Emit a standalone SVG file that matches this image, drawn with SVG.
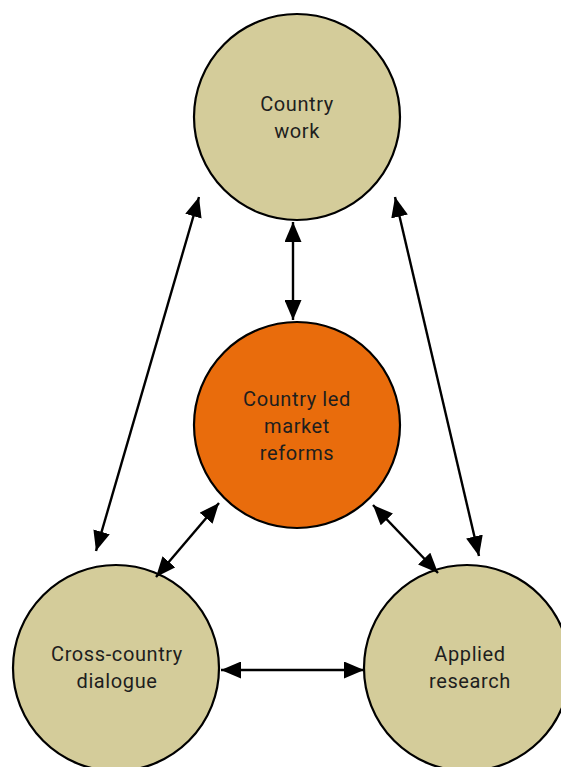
<svg xmlns="http://www.w3.org/2000/svg" width="561" height="767" viewBox="0 0 561 767">
  <style>
    .node { stroke: #000; stroke-width: 2.2; }
    .tan { fill: #d4cc9a; }
    .orange { fill: #e96c0c; }
    .label { font-family: Roboto, "DejaVu Sans", sans-serif; font-size: 20px; letter-spacing: 0.6px; fill: #1e1e1e; text-anchor: middle; }
    .link { stroke: #000; stroke-width: 2.4; fill: none; marker-start: url(#head); marker-end: url(#head); }
  </style>
  <defs>
    <marker id="head" viewBox="0 0 20 17" refX="20" refY="8.5" markerWidth="20" markerHeight="17" markerUnits="userSpaceOnUse" orient="auto-start-reverse">
      <path d="M0,0 L20,8.5 L0,17 Z" fill="#000"/>
    </marker>
  </defs>

  <rect width="561" height="767" fill="#fff"/>

  <g id="country-work">
    <circle class="node tan" cx="297" cy="117" r="103"/>
    <text class="label" x="297" y="111">Country</text>
    <text class="label" x="297" y="138">work</text>
  </g>

  <g id="country-led-market-reforms">
    <circle class="node orange" cx="297" cy="425" r="103"/>
    <text class="label" x="297" y="406">Country led</text>
    <text class="label" x="297" y="433">market</text>
    <text class="label" x="297" y="460">reforms</text>
  </g>

  <g id="cross-country-dialogue">
    <circle class="node tan" cx="116" cy="668" r="103"/>
    <text class="label" x="117" y="661">Cross-country</text>
    <text class="label" x="117" y="688">dialogue</text>
  </g>

  <g id="applied-research">
    <circle class="node tan" cx="467" cy="668" r="103"/>
    <text class="label" x="470" y="661">Applied</text>
    <text class="label" x="470" y="688">research</text>
  </g>

  <g id="connectors">
    <line class="link" x1="293" y1="222" x2="293" y2="320"/>
    <line class="link" x1="199" y1="197" x2="96" y2="551"/>
    <line class="link" x1="395" y1="197" x2="479" y2="556"/>
    <line class="link" x1="219" y1="503" x2="156" y2="577"/>
    <line class="link" x1="373" y1="505" x2="438" y2="573"/>
    <line class="link" x1="221" y1="670" x2="364" y2="670"/>
  </g>
</svg>
